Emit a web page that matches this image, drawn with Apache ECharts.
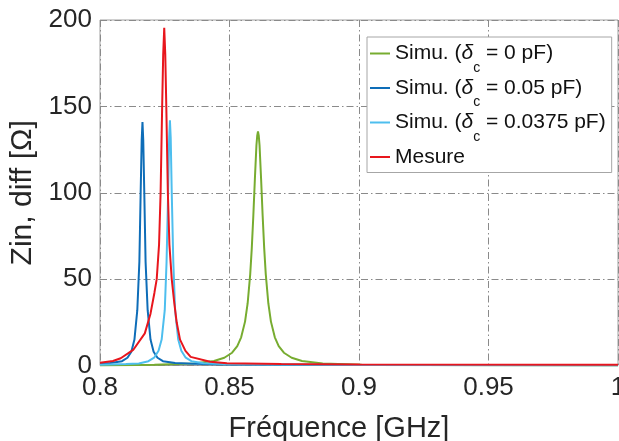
<!DOCTYPE html>
<html>
<head>
<meta charset="utf-8">
<script src="https://cdn.jsdelivr.net/npm/echarts@6/dist/echarts.min.js"></script>
<style>
html,body{margin:0;padding:0;background:#fff;}
#chart{width:619px;height:441px;}
</style>
</head>
<body>
<div id="chart"></div>
<script>
// ---- Data ----
var seriesNames = ['Simu. (δc = 0 pF)', 'Simu. (δc = 0.05 pF)', 'Simu. (δc = 0.0375 pF)', 'Mesure'];
var xTicks = [0.8, 0.85, 0.9, 0.95, 1];
var yTicks = [0, 50, 100, 150, 200];

// Simu. δc = 0 pF (green)
var greenFreq = [0.800, 0.821, 0.836, 0.844, 0.848, 0.851, 0.853, 0.8545, 0.856, 0.857, 0.858, 0.8586, 0.8592, 0.8598, 0.8604, 0.8607, 0.8610, 0.8613, 0.8616, 0.8622, 0.8628, 0.8634, 0.8640, 0.8650, 0.8660, 0.8675, 0.8690, 0.8710, 0.8740, 0.8780, 0.8860, 0.9010, 0.9500, 1.0];
var greenZin  = [0.05, 0.5, 1.2, 2.6, 4.5, 7.4, 11.2, 16.3, 25.4, 35.9, 52.9, 67.8, 86.7, 108, 127.5, 133, 135.5, 133, 127.5, 108, 86.7, 67.8, 52.9, 35.9, 25.4, 16.3, 11.2, 7.4, 4.5, 2.6, 1.2, 0.5, 0.1, 0.05];

// Simu. δc = 0.05 pF (dark blue)
var darkFreq = [0.800, 0.804, 0.8085, 0.8106, 0.8121, 0.8133, 0.8144, 0.8152, 0.8157, 0.8161, 0.8164, 0.8167, 0.8171, 0.8176, 0.8184, 0.8195, 0.8207, 0.8222, 0.8243, 0.829, 0.836, 0.850, 0.900, 1.0];
var darkZin  = [1.0, 1.5, 2.5, 4.5, 8, 15, 32, 60, 100, 130.5, 141, 130.5, 100, 60, 32, 15, 8, 4.5, 2.5, 1.5, 1.0, 0.6, 0.25, 0.1];

// Simu. δc = 0.0375 pF (light blue)
var lightFreq = [0.800, 0.810, 0.815, 0.8187, 0.8209, 0.8226, 0.8238, 0.8250, 0.8257, 0.8263, 0.8267, 0.8270, 0.8273, 0.8277, 0.8283, 0.8290, 0.8302, 0.8314, 0.8331, 0.8353, 0.840, 0.850, 0.900, 1.0];
var lightZin  = [0.4, 0.8, 1.2, 2.5, 4.5, 8.5, 15, 32, 60, 100, 132, 142, 132, 100, 60, 32, 15, 8.5, 4.5, 2.5, 1.3, 0.7, 0.25, 0.1];

// Mesure (red)
var redFreq = [0.800, 0.805, 0.808, 0.8128, 0.8173, 0.8195, 0.8210, 0.8219, 0.8228, 0.8234, 0.8240, 0.8244, 0.8248, 0.8252, 0.8256, 0.8262, 0.8268, 0.8277, 0.8287, 0.8296, 0.8309, 0.8330, 0.8350, 0.8425, 0.8490, 0.870, 0.900, 1.0];
var redZin  = [1.6, 2.6, 4.2, 9, 18.6, 30, 42, 50, 70, 100, 150, 180, 195.5, 180, 150, 100, 70, 50, 36, 25, 15, 8.5, 5, 2.2, 1.3, 0.8, 0.6, 0.5];

// ---- Build ----
function pairs(xs, ys){ var out=[]; for(var i=0;i<xs.length;i++){ out.push([xs[i], ys[i]]); } return out; }
var colors = ['#77AC30', '#0E6DB8', '#4DBEEE', '#E8161D'];
var dataSets = [pairs(greenFreq, greenZin), pairs(darkFreq, darkZin), pairs(lightFreq, lightZin), pairs(redFreq, redZin)];
var FONT = '"Liberation Sans", Arial, sans-serif';

var chart = echarts.init(document.getElementById('chart'), null, {renderer:'canvas'});
var option = {
  animation: false,
  backgroundColor: '#fff',
  grid: { left: 100, right: 1, top: 20, bottom: 75.5, show: true, borderColor: '#a0a0a0', borderWidth: 1, backgroundColor: 'transparent', containLabel: false, outerBoundsMode: 'none' },
  xAxis: {
    type: 'value', min: xTicks[0], max: xTicks[xTicks.length-1], interval: 0.05,
    name: 'Fréquence [GHz]', nameLocation: 'middle', nameGap: 49,
    nameTextStyle: { fontFamily: FONT, fontSize: 29, color: '#262626', padding: [0, 40, 0, 0] },
    axisLine: { show: false }, axisTick: { show: false },
    axisLabel: { fontFamily: FONT, fontSize: 26, color: '#262626', margin: 9, formatter: function(v){ return String(+v.toFixed(2)); } },
    splitLine: { show: true, lineStyle: { color: '#8a8a8a', width: 1, type: [7, 3, 1.5, 3] } }
  },
  yAxis: {
    type: 'value', min: yTicks[0], max: yTicks[yTicks.length-1], interval: 50,
    name: 'Zin, diff [Ω]', nameLocation: 'middle', nameGap: 49, nameRotate: 90,
    nameTextStyle: { fontFamily: FONT, fontSize: 30, color: '#262626' },
    axisLine: { show: false }, axisTick: { show: false },
    axisLabel: { fontFamily: FONT, fontSize: 26, color: '#262626', margin: 8 },
    splitLine: { show: true, lineStyle: { color: '#8a8a8a', width: 1, type: [7, 3, 1.5, 3] } }
  },
  legend: {
    show: true, orient: 'vertical', left: 367, top: 37,
    padding: [2, 6, -6, 3], itemGap: -1.5, itemWidth: 20, itemHeight: 2,
    icon: 'rect', selectedMode: false,
    backgroundColor: '#fff', borderColor: '#a6a6a6', borderWidth: 1,
    data: seriesNames,
    formatter: function(name){ return name.indexOf('δc') >= 0 ? name.replace('δc', '{d|δ}{s|c}') : name + '{s| }'; },
    textStyle: {
      fontFamily: FONT, fontSize: 21, lineHeight: 24, color: '#111',
      rich: {
        d: { fontFamily: FONT, fontSize: 21, lineHeight: 24, fontStyle: 'italic', color: '#111' },
        s: { fontFamily: FONT, fontSize: 14, lineHeight: 24, height: 0, padding: [29, 0, 0, 0], color: '#111' }
      }
    }
  },
  series: seriesNames.map(function(n, i){
    return { name: n, type: 'line', data: dataSets[i], showSymbol: false, symbol: 'none',
      lineStyle: { color: colors[i], width: 2 }, itemStyle: { color: colors[i] }, z: 2 + i };
  })
};
chart.setOption(option);
</script>
</body>
</html>
